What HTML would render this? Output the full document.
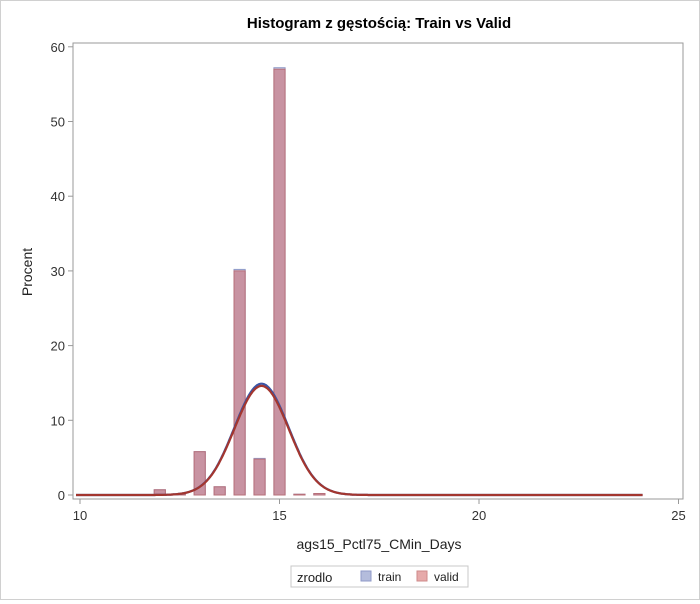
<!DOCTYPE html>
<html><head><meta charset="utf-8"><style>
body{margin:0;background:#fff;font-family:"Liberation Sans",Arial,sans-serif}
#wrap{position:relative;width:698px;height:598px;border:1px solid #d0d0d0;}
</style></head><body>
<div id="wrap">
<svg id="chart" width="698" height="598"></svg>
</div>
<script>
const binCenters=[12,12.5,13,13.5,14,14.5,15,15.5,16];
const trainPct=[0.7,0.1,5.8,1.1,30.2,4.9,57.2,0.1,0.2];
const validPct=[0.7,0.1,5.8,1.1,30.0,4.8,57.0,0.1,0.2];
const trainCurve=[14.55,0.68,14.9];
const validCurve=[14.55,0.68,14.6];
const xTicks=[10,15,20,25];
const yTicks=[0,10,20,30,40,50,60];
const curveRange=[9.9,24.1];

const NS="http://www.w3.org/2000/svg";
const svg=document.getElementById('chart');
const X=v=>79+(v-10)*39.9;
const Y=v=>494-v*7.47;
function mk(t,a,txt){const e=document.createElementNS(NS,t);for(const k in a)e.setAttribute(k,a[k]);if(txt!==undefined)e.textContent=txt;svg.appendChild(e);return e;}

let e=mk('text',{x:378,y:27,'text-anchor':'middle','font-size':15,'font-weight':'bold',fill:'#000'},'Histogram z gęstością: Train vs Valid');


e=mk('rect',{x:72,y:42,width:610,height:456,fill:'none',stroke:'#9a9a9a'});



yTicks.forEach(t=>{
 let l=mk('line',{x1:67,x2:72,y1:Y(t),y2:Y(t),stroke:'#9a9a9a'});
 
 
 let s=mk('text',{x:64,y:Y(t)+5,'text-anchor':'end','font-size':13,fill:'#333'},t);
 
 
});
xTicks.forEach(t=>{
 let l=mk('line',{x1:X(t),x2:X(t),y1:498,y2:503,stroke:'#9a9a9a'});
 
 
 let s=mk('text',{x:X(t),y:519,'text-anchor':'middle','font-size':13,fill:'#333'},t);
 
 
});
e=mk('text',{x:378,y:548,'text-anchor':'middle','font-size':14,fill:'#222'},'ags15_Pctl75_CMin_Days');


e=mk('text',{x:31,y:271,'text-anchor':'middle','font-size':14,fill:'#222',transform:'rotate(-90 31 271)'},'Procent');



const bw=0.28;
binCenters.forEach((c,i)=>{
 let b=mk('rect',{x:X(c-bw/2),y:Y(trainPct[i]),width:bw*39.9,height:Y(0)-Y(trainPct[i]),fill:'rgba(150,160,205,0.5)',stroke:'#8f9ac8'});
 
 
});
binCenters.forEach((c,i)=>{
 let b=mk('rect',{x:X(c-bw/2),y:Y(validPct[i]),width:bw*39.9,height:Y(0)-Y(validPct[i]),fill:'rgba(200,130,142,0.78)',stroke:'#b8707a'});
 
 
});
function curve(p,col,name){
 let d='';
 for(let v=curveRange[0];v<=curveRange[1]+1e-9;v+=0.02){
  const y=p[2]*Math.exp(-0.5*((v-p[0])/p[1])**2);
  d+=(d?'L':'M')+X(v).toFixed(1)+','+Y(y).toFixed(1);
 }
 let c=mk('path',{d:d,fill:'none',stroke:col,'stroke-width':2.2});
 
 
}
curve(trainCurve,'#3b55a6','train-density-curve');
curve(validCurve,'#a3362f','valid-density-curve');

e=mk('rect',{x:290,y:565,width:177,height:21,fill:'#fff',stroke:'#c8c8c8'});


e=mk('text',{x:296,y:581,'font-size':13,fill:'#222'},'zrodlo');


e=mk('rect',{x:360,y:570,width:10,height:10,fill:'#b4bcdc',stroke:'#8f9ac8'});


e=mk('text',{x:377,y:580,'font-size':12,fill:'#222'},'train');


e=mk('rect',{x:416,y:570,width:10,height:10,fill:'#e6aaaa',stroke:'#cf8a8a'});


e=mk('text',{x:433,y:580,'font-size':12,fill:'#222'},'valid');


</script>
</body></html>
